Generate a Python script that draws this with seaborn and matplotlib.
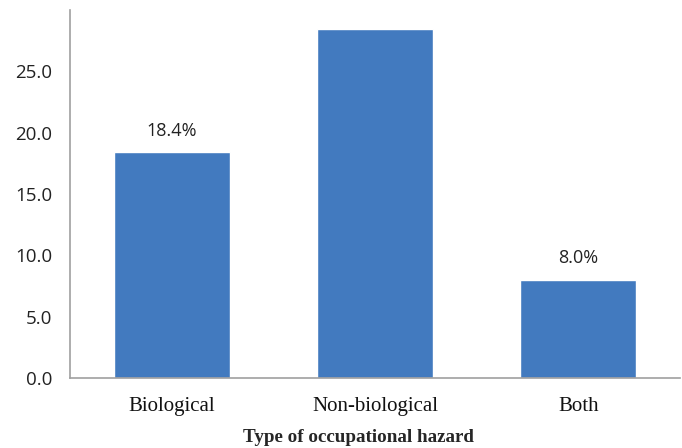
import matplotlib
matplotlib.use("Agg")
import matplotlib.pyplot as plt
import pandas as pd
import seaborn as sns

# dados do gráfico
categorias = ['Biological', 'Non-biological', 'Both']
valores = [18.4, 28.4, 8.0]
rotulos = ['18.4%', '', '8.0%']
ticks_y = [0, 5, 10, 15, 20, 25]

sns.set_style('white')

dados = pd.DataFrame({'tipo': categorias, 'valor': valores})

fig = plt.figure(figsize=(6.82, 4.48), dpi=100)
ax = fig.add_axes([0.103, 0.156, 0.894, 0.822])

sns.barplot(data=dados, x='tipo', y='valor', color='#427ABF', saturation=1,
            width=0.57, ax=ax)

for barra, rotulo in zip(ax.patches, rotulos):
    if rotulo:
        ax.annotate(rotulo, (barra.get_x() + barra.get_width() / 2, barra.get_height()),
                    xytext=(0, 9), textcoords='offset points', ha='center', va='bottom',
                    fontsize=13, family='Open Sans', color='#222222')

ax.set_ylim(0, 30)
ax.set_xlim(-0.5, 2.5)
ax.set_yticks(ticks_y)
ax.set_yticklabels([f'{t:.1f}' for t in ticks_y], family='Open Sans', fontsize=13.5, color='#222222')
ax.set_xticks(range(len(categorias)))
ax.set_xticklabels(categorias, family='Liberation Serif', fontsize=15, color='#111111')
ax.tick_params(axis='both', length=0)
ax.tick_params(axis='x', pad=13.5)
ax.tick_params(axis='y', pad=13)

ax.set_ylabel('')
ax.set_xlabel('Type of occupational hazard', family='Liberation Serif', fontsize=13.7,
              fontweight='bold')
ax.xaxis.set_label_coords(0.472, -0.138)

for lado in ['top', 'right']:
    ax.spines[lado].set_visible(False)
for lado in ['left', 'bottom']:
    ax.spines[lado].set_color('#A0A0A0')
    ax.spines[lado].set_linewidth(1.2)

fig.savefig('out.png', dpi=100)
